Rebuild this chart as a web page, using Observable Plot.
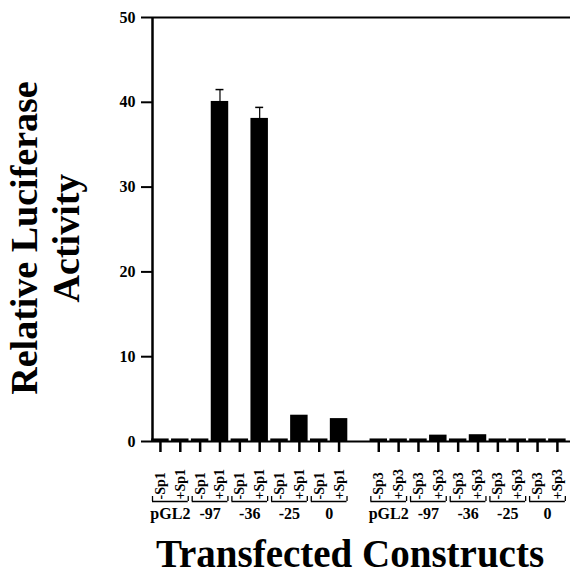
<!DOCTYPE html>
<html>
<head>
<meta charset="utf-8">
<script src="https://cdn.jsdelivr.net/npm/d3@7"></script>
<script src="https://cdn.jsdelivr.net/npm/@observablehq/plot@0.6"></script>
<style>
html, body { margin: 0; padding: 0; background: #fff; }
#wrap { position: relative; width: 570px; height: 580px; overflow: hidden;
  font-family: "Liberation Serif", "Times New Roman", serif; font-weight: bold; color: #000; }
#chart { position: absolute; left: 0; top: 0; }
#ytitle { position: absolute; left: -154.7px; top: 196px; width: 400px; height: 84px;
  line-height: 42px; font-size: 38px; text-align: center; transform: rotate(-90deg); white-space: nowrap; }
#xtitle { position: absolute; left: 100px; top: 534px; width: 500px; font-size: 39px;
  line-height: 39px; text-align: center; white-space: nowrap; }
</style>
</head>
<body>
<div id="wrap">
  <div id="chart"></div>
  <div id="ytitle">Relative Luciferase<br>Activity</div>
  <div id="xtitle">Transfected Constructs</div>
</div>
<script>
// ---- data ----
const constructs = ["pGL2", "-97", "-36", "-25", "0"];
const factors = ["Sp1", "Sp3"];
const sp1Minus = [0.3, 0.3, 0.3, 0.3, 0.3];
const sp1Plus = [0.3, 40.1, 38.1, 3.1, 2.7];
const sp1PlusErr = [0, 1.4, 1.3, 0, 0];
const sp3Minus = [0.3, 0.3, 0.3, 0.3, 0.3];
const sp3Plus = [0.3, 0.75, 0.8, 0.3, 0.3];
const sp3PlusErr = [0, 0, 0, 0, 0];
const yTicks = [0, 10, 20, 30, 40, 50];

// ---- table built from the arrays ----
const minusByFactor = [sp1Minus, sp3Minus];
const plusByFactor = [sp1Plus, sp3Plus];
const errByFactor = [sp1PlusErr, sp3PlusErr];
const slotsPerGroup = constructs.length * 2 + 1; // one empty slot between groups
const rows = [];
const pairs = [];
factors.forEach((f, g) => {
  constructs.forEach((c, j) => {
    const base = g * slotsPerGroup + j * 2;
    rows.push({factor: f, construct: c, sign: "-", value: minusByFactor[g][j], err: 0, pos: base});
    rows.push({factor: f, construct: c, sign: "+", value: plusByFactor[g][j], err: errByFactor[g][j], pos: base + 1});
    pairs.push({factor: f, construct: c, pos: base + 0.5});
  });
});

// ---- layout constants ----
const xDomain = [-0.4, 20.66];
const barHalf = 0.44;
const capHalf = 0.2;
const bracketHalf = 0.9;

const chart = Plot.plot({
  width: 570,
  height: 580,
  marginLeft: 152,
  marginRight: 0,
  marginTop: 17,
  marginBottom: 139,
  style: {fontFamily: "'Liberation Serif', 'Times New Roman', serif", fontWeight: "bold", fontSize: "15px", background: "white", color: "black"},
  x: {domain: xDomain},
  y: {domain: [0, 50]},
  marks: [
    Plot.ruleY([50], {strokeWidth: 2}),
    Plot.ruleX([xDomain[0]], {strokeWidth: 2.5}),
    Plot.rectY(rows, {x1: d => d.pos - barHalf, x2: d => d.pos + barHalf, y1: 0, y2: "value", fill: "#000"}),
    Plot.ruleY([0], {strokeWidth: 2}),
    Plot.ruleX(rows.filter(d => d.err > 0), {x: "pos", y1: "value", y2: d => d.value + d.err, strokeWidth: 1.2}),
    Plot.ruleY(rows.filter(d => d.err > 0), {x1: d => d.pos - capHalf, x2: d => d.pos + capHalf, y: d => d.value + d.err, strokeWidth: 1.5}),
    Plot.axisY({ticks: yTicks, tickSize: 11, tickPadding: 6, fontSize: 16, strokeWidth: 2, label: null}),
    Plot.axisX({ticks: rows.map(d => d.pos), tickSize: 11, tickFormat: () => "", strokeWidth: 2.5, label: null}),
    Plot.text(rows, {x: "pos", y: 0, dy: 58, rotate: -90, textAnchor: "start", text: d => d.sign + d.factor, fontSize: 14, ariaLabel: "sign-label"}),
    Plot.ruleY(pairs, {x1: p => p.pos - bracketHalf, x2: p => p.pos + bracketHalf, y: 0, dy: 60, strokeWidth: 1.3}),
    Plot.ruleX(pairs.flatMap(p => [p.pos - bracketHalf, p.pos + bracketHalf]), {x: d => d, y1: 0, y2: 0, insetTop: -5, dy: 60, strokeWidth: 1.3}),
    Plot.text(pairs, {x: "pos", y: 0, dy: 72, text: "construct", fontSize: 16})
  ]
});

// stretch the rotated sign labels along their length, as in the original
chart.querySelectorAll('g[aria-label="sign-label"] text').forEach(t => {
  const tr = t.getAttribute("transform") || "";
  t.setAttribute("transform", tr + " scale(1.35,1)");
});

document.getElementById("chart").appendChild(chart);
</script>
</body>
</html>
